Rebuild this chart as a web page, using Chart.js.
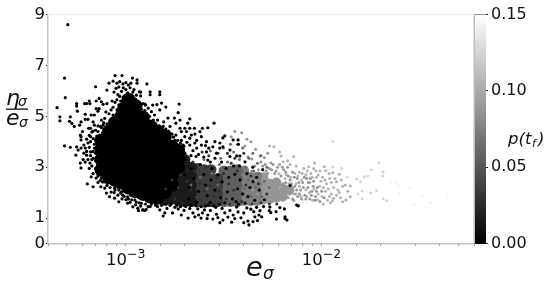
<!DOCTYPE html>
<html><head><meta charset="utf-8">
<style>html,body{margin:0;padding:0;background:#fff}canvas{display:block}</style>
<script src="https://cdn.jsdelivr.net/npm/chart.js@4"></script></head>
<body><canvas id="c" width="550" height="285"></canvas>
<script>
// e_sigma values are in units of 1e-3; second number is eta_sigma / e_sigma
const eUnit = 1e-3;
const yTickValues = [0,1,3,5,7,9];
const cbarTickValues = [0,0.05,0.10,0.15];
const xMajorTicks = [1e-3,1e-2];
const xMajorBase = "10";
const xMajorExps = ["\u22123","\u22122"];

const speckBlack = [[.505,8.6],[.486,6.5],[.49,5.73],[.445,5.34],[.70,6.16],[.46,4.98],[.46,4.82],[.486,3.84],[.52,3.78],
[.88,6.6],[.955,6.6],[1.08,6.5],[1.14,6.43],[1.14,6.3],[1.28,6.27],[.82,6.3],[.86,6.38],[.8,6.03],[.9,6.3],[.93,6.36],[1,6.32],[1.03,6.23],[.965,6.27],[1.06,6.3],[.89,6.1],[.87,5.95],[1,6.05],[1.17,5.96],[1.085,5.95],[1.13,5.83],[1.22,5.5],[1.26,5.44],[.92,6.15],[.97,6.12],[1.05,6.12],[1.1,6.05],[.95,5.98],[1.02,5.92],[.91,5.85],[1.07,5.82],
[.615,5.5],[.65,5.6],[.655,5.5],[.63,5.5],[.56,5.5],[.56,5.4],[.565,5.2],[.62,5.08],[.705,5.6],[.73,5.7],[.75,5.57],[.765,5.47],[.705,5.3],[.73,5.3],[.72,5.2],[.8,5.5],[.79,5.17],[.84,5.25],[.52,4.98],[.515,4.8],[.53,4.72],[.545,4.6],[.58,4.65],[.59,4.78],[.62,4.88],[.64,4.88],[.665,5.05],[.69,5.05],[.68,4.78],[.69,4.65],[.645,4.53],[.66,4.53],[.6,4.4],[.59,4.2],[.65,4.25],[.72,4.4],[.765,4.65],[.83,4.85],[.75,4.85],[.7,4.45],[.74,4.6],[.78,4.92],[.86,5.35],[.82,5.1],[.88,5.55],[.85,5.6],[.67,4.38],[.63,4.1],[.68,4.12],[.71,4.22],
[.56,3.8],[.555,3.47],[.57,3.67],[.59,3.75],[.585,3.16],[.59,2.97],[.605,3.3],[.63,3.47],[.61,3.87],[.59,4.07],[.585,4.26],[.64,3.95],[.655,3.16],[.68,3.35],[.635,2.34],[.68,2.23],[.665,2.62],[.705,2.57],[.72,2.82],[.745,2.23],[.78,2.18],[.795,1.98],[.825,1.84],[.84,2.5],[.875,1.78],[.92,1.64],[.91,1.9],[.965,1.9],[1.02,1.59],[.955,1.75],[1.085,1.44],[1.15,1.39],[1.16,1.29],[1.22,1.32],[1.27,1.34],[1.19,1.47],[.875,2.18],[.91,2.2],[1.02,1.83],[1.11,1.71],[1.06,1.9],[.81,2.38],[.84,2.02],[.75,2.57],[.66,3.6],[.62,3.2],[.65,2.95],[.69,3.75],[.7,2.95],[.67,3.05],[.73,3.55],[.72,3.1],[.75,2.9],[.61,3.55],[.64,3.3],[.66,4.0],[.7,3.25],[.77,2.7],[.8,2.55],[.72,2.4],[.76,2.42],[.87,2.0],[.95,2.03],[1,1.72],[1.05,1.62],[1.12,1.52],
[1.33,5.96],[1.49,5.96],[1.33,5.85],[1.49,5.85],[1.19,5.95],[1.19,5.8],[1.87,5.48],[1.52,5.52],[1.6,5.36],[1.37,5.44],[1.44,5.46],[1.3,5.32],[1.25,5.48],[1.49,5.25],[1.35,5.18],[1.85,5.14],[2.12,4.9],[1.64,4.93],[1.77,4.93],[1.8,4.73],[2.07,4.73],[1.89,4.85],[1.56,4.78],[1.89,4.53],[1.68,4.6],[2.82,4.73],[2.62,4.55],[2.46,4.53],[2.24,4.53],[2.12,4.53],[2,4.53],[2.04,4.4],[1.92,4.4],[2.25,4.3],[2.39,4.4],[2.16,4.26],[2,4.2],[2.12,4.14],[2.43,4.2],[2.58,4.0],[3.2,4.23],[3.13,4.15],[3.74,4.07],[3.53,4.07],[3.74,3.9],[3.02,3.95],[2.85,4],[2.78,3.8],[3.13,3.8],[3.4,3.67],[2.9,3.55],[3.02,3.75],[2.58,3.6],[2.43,3.87],[2.3,3.75],[2.25,3.95],[2.12,3.87],[1.96,3.87],[1.92,4.05],[1.8,4.26],[1.68,4.34],[1.55,4.6],[1.45,4.85],[1.4,5.05],[1.58,4.45],[1.72,4.3],[1.84,4.05],
[1.21,1.78],[1.22,1.32],[1.25,1.3],[1.4,1.6],[1.35,1.55],[1.49,1.32],[1.55,1.08],[1.58,1.2],[1.73,1.2],[1.85,1.36],[1.92,1.12],[2.08,1],[2.2,1.2],[2.33,1.36],[2.46,1.2],[2.62,1.12],[2.78,.96],[3.02,.82],[3.13,.92],[3.32,1.04],[3.53,1.12],[3.74,1.24],[3.47,.84],[1.3,1.45],[1.45,1.45],[1.62,1.38],[1.68,1.5],[1.78,1.42],[1.98,1.3],[2.12,1.38],[2.25,1.05],[2.35,1.12],[2.52,1.32],[2.7,1.3],[2.9,1.15],[2.95,1.02],[3.2,1.2],[3.4,1.3],[3.6,.98],[2.42,1.0],[2.6,.98],[2.55,1.48],[2.88,1.42],[3.1,1.38],
[3.68,1.43],[3.87,1.01],[4,.82],[4.25,.73],[4.2,.88],[4.56,1.05],[4.78,1.12],[4.94,1.05],[4.46,.86],[4.7,.9],[4.5,1.25],[4.84,1.29],[5.44,1.43],[5.4,1.29],[5.87,.96],[5.5,1.21],[5.85,1.25],[6.45,1.36],[6.12,1.41],[6.5,1.05],[6.65,.92],[6.5,.98],[7.45,1.51],[7.6,1.48],[4.0,1.2],[4.15,1.4],[4.35,1.35],[4.65,1.42],[5.05,1.45],
[3.75,3.9],[3.68,3.44],[3.82,3.44],[4.46,2.43],[3.83,2.5],[4.06,3.21],[4.2,1.84],[4.06,1.59],[3.75,1.55],
[2.02,3.3],[2.15,2.95],[2.28,3.42],[2.4,3.1],[2.22,2.55],[2.5,2.72],[2.62,3.28],[2.75,2.95],[2.85,3.35],[2.55,2.3],[2.72,2.5],[2.95,2.7],[3.08,3.2],[3.25,2.95],[3.4,3.42],[3.55,3.05],[3.1,2.42],[3.35,2.6],[3.6,2.72],[3.8,3.05],[2.1,2.2],[2.35,2.05],[2.6,1.88],[2.85,2.1],[3.05,1.8],[3.3,2.02],[3.5,1.75],[3.72,2.15],[3.95,1.95],[4.3,2.2],[4.55,1.7],[4.8,2.1],[5.1,1.72],[4.15,2.75],[4.45,3.0],[4.65,2.6],[5.0,2.9],[2.0,2.7],[2.1,1.75],[2.3,1.62],[2.7,1.62],[3.2,1.6],[3.65,1.65],[6.9,2.28]];

const speckEdge = [[.62,3.75],[.63,3.62],[.65,3.78],[.66,3.45],[.67,3.3],[.68,3.62],[.69,3.9],[.7,3.55],[.71,3.8],[.72,3.35],[.72,4.0],[.73,3.75],[.74,4.2],[.74,3.1],[.76,4.35],[.77,3.0],[.78,4.5],[.79,2.75],[.66,4.2],[.68,4.42],[.7,4.05],[.72,4.62],[.75,4.55],[.77,4.75],[.8,4.7],[.84,4.65],[.86,5.05],[.88,4.95],[.9,5.25],[.92,5.45],[.94,5.6],[.9,5.65],[.93,5.78],[.97,5.75],[1.12,5.68],[1.15,5.55],[1.18,5.42],[1.2,5.28],[1.25,5.22],[1.28,5.05],[1.32,5.0],[1.38,4.85],[1.42,4.7],[1.48,4.62],[1.6,4.5],[1.65,4.42],[1.75,4.18],[1.78,4.05],[1.9,3.95],[1.98,3.82],[2.05,3.98],[2.2,3.65],[2.3,4.05],[2.35,3.5],[2.5,3.4],[2.55,3.85],[2.65,3.75],[2.7,3.2],[2.15,3.45],[2.0,3.55],
[.68,2.75],[.72,2.65],[.74,2.48],[.78,2.42],[.8,2.28],[.83,2.2],[.86,2.32],[.88,2.1],[.92,2.1],[.94,1.98],[.98,1.85],[1.03,1.75],[1.07,1.72],[1.13,1.63],[1.17,1.6],[1.2,1.58],[1.26,1.55],[1.33,1.45],[1.42,1.5],[1.52,1.5],[1.6,1.55],[1.7,1.55],[1.82,1.5],[1.9,1.45],[2.02,1.45],[2.15,1.5],[2.28,1.48],[2.42,1.45],[2.65,1.5],[2.8,1.48],[3,1.55]];

const speckDark = [[1.6,2.15],[1.72,2.5],[1.85,2.2],[1.9,2.7],[2.05,2.45],[2.15,2.1],[2.25,2.85],[2.38,2.35],[2.5,2.05],[2.55,3.0],[2.7,2.25],[2.8,1.85],[2.9,2.6],[3.0,2.05],[3.15,2.75],[3.25,1.75],[3.35,2.35],[3.45,3.15],[3.55,2.1],[3.7,2.85],[2.2,3.2],[2.45,3.6],[2.65,3.45],[2.95,3.55],[3.3,3.55],[3.6,3.35],[4.0,3.55],[1.78,1.75],[1.95,1.6],[2.4,1.72],[2.85,1.55],[3.4,1.55],[3.9,1.65],[4.4,1.55],[4.9,1.6],[5.4,1.55],[5.9,1.55],[4.1,2.3],[4.35,2.65],[4.75,2.35],[5.25,1.95]];

const speckMid = [[2.15,2.3],[2.4,2.6],[2.6,2.15],[2.75,2.75],[2.95,2.3],[3.1,2.95],[3.2,2.2],[3.35,1.85],[3.5,2.5],[3.65,2.0],[3.75,2.45],[3.9,2.8],[4.05,2.15],[4.2,2.5],[4.35,1.85],[4.5,2.85],[4.6,2.2],[4.8,2.75],[4.95,1.85],[5.1,2.45],[5.25,3.0],[5.4,2.2],[3.05,3.35],[3.3,3.2],[3.55,3.6],[3.8,3.3],[3.95,3.75],[4.1,3.0],[4.25,3.35],[4.45,3.55],[4.7,3.15],[4.9,3.45],[3.15,3.75],[3.42,3.9],[3.0,3.1],[2.7,3.65],[2.5,3.3]];

const speckGrey = [[4.05,3.83],[4.2,3.41],[4.4,3.32],[4.84,3.44],[5.1,3.37],[5.5,3.17],[5.3,3.55],[4.6,3.7],[4.15,4.1],[3.45,4.2],[3.9,4.35],[3.6,4.4],[4.35,4.0],[5,3.05],[5.3,2.75],[5.55,2.9],[5.7,2.5],[5.9,2.25],[5.6,2.05],[5.8,1.8],[6.05,1.95],[6.2,2.65],[6.35,2.35],[6.6,2.1],[6.3,1.7],[6.75,1.8],[6.9,2.5],[7,2.0],[7.2,1.7],[5.95,3.0],[6.4,2.9],[6.7,3.0],[5.2,2.2],[5.0,2.6],[4.6,2.45],[4.4,2.85],[5.35,1.75],[5.75,2.75],[7.1,2.8],[7.3,2.25],[7.5,2.55],[7.55,1.85],[7.8,2.1],[8,2.4],[7.9,1.75],[8.2,1.9],[8.4,2.55],[8.5,2.2],[8.7,1.75],[8.9,2.05],[9.1,2.45],[9.3,1.85],[9.5,2.2],[9.8,1.65],[10,2.05],[10.3,1.8],
[4.55,3.05],[4.75,2.9],[4.9,3.2],[5.15,3.1],[5.4,2.95],[5.2,2.85],[5.65,3.1],[5.85,2.85],[6.1,3.1],[6.3,3.0],[6.55,2.8],[6.75,2.65],[7,2.35],[7.25,2.6],[7.45,2.1],[7.65,2.4],[7.7,1.95],[8.05,2.2],[8.15,2.6],[8.3,1.75],[8.55,2.4],[8.75,2.55],[8.85,1.9],[9.05,2.25],[9.25,1.7],[9.4,2.05],[6.15,1.85],[6.45,1.95],[6.55,2.4],[6.85,1.95],[7.1,1.75],[7.35,1.95],[5.5,1.95],[5.75,2.15],[5.25,2.55],[5.45,2.45],[5.95,2.45],[6.25,2.15],[4.95,2.25],[5.05,2.05],[4.7,1.95],[4.45,2.1]];

const speckLight = [[5.42,3.83],[5.7,3.8],[6.1,3.6],[6.2,3.44],[7.2,3.41],[6.35,3.21],[6.7,3.25],[6.05,2.75],[6.9,3.1],[7.4,3.05],[7.7,2.8],[8.6,3.02],[9.2,3.16],[8.1,2.95],[8.3,2.7],[8.8,2.75],[9.6,2.69],[9.1,2.95],[10.3,3.02],[10.5,2.86],[11.4,2.78],[12.3,2.72],[11.9,2.43],[11,2.55],[10.6,2.35],[9.9,2.45],[10.2,2.2],[10.8,2.15],[11.5,2.2],[11.2,1.95],[11.5,1.78],[12.5,1.8],[12.8,1.64],[13.3,1.71],[12.1,2.1],[12.8,2.25],[13.2,2.3],[14,2.26],[14,1.84],[13.6,2.05],[10.7,1.7],[10.2,1.55],[11.1,1.6],[9.4,2.6],[8.7,2.4],[7.9,2.5],[7.4,2.35],[6.8,2.35],[6.5,2.55],[6.15,2.2],[7.15,1.95],[7.7,2.25],[8.3,2.1],[9.15,2.15],[9.6,1.95],
[7.55,2.65],[7.95,2.75],[8.45,2.85],[8.95,2.6],[9.35,2.85],[9.8,2.85],[10.1,2.6],[10.4,2.5],[10.9,2.75],[11.2,2.4],[11.7,2.55],[12.6,2.5],[9.75,2.25],[10.05,1.85],[10.45,2.05],[10.95,1.85],[11.35,1.68],[11.9,1.9],[12.3,2.0],[9.5,1.72],[9.0,1.7],[8.4,1.85],[8.65,2.0],[7.85,1.85],[6.6,2.7],[6.95,2.6],[7.3,2.75]];

const speckPale = [[11.4,4.0],[15.1,2.53],[15.8,2.42],[16.1,2.06],[15.3,1.95],[16.1,1.75],[16.5,2.62],[17.2,2.65],[17.8,1.98],[17.9,2.89],[19.1,2.07],[19.6,3.17],[20.5,2.65],[20.6,2.8],[20.6,1.75],[21.5,1.68],[11.4,3.0],[12.6,2.95],[13.5,2.6]];

const speckFaint = [[24,2.34],[25,2.26],[25,1.95],[28.2,2.19],[29.6,1.51],[32.7,1.84],[44,1.91],[36,1.6],[22.5,2.4]];

const coreBlack = [[.75,2.9],[.75,3.3],[.75,3.7],[.75,4.05],[.82,2.6],[.82,2.95],[.82,3.3],[.82,3.7],[.82,4.1],[.82,4.4],
[.88,2.5],[.88,2.9],[.88,3.3],[.88,3.7],[.88,4.1],[.88,4.5],[.88,4.75],
[.95,2.4],[.95,2.75],[.95,3.1],[.95,3.5],[.95,3.9],[.95,4.3],[.95,4.7],[.95,5.0],[.98,5.3],
[1.03,2.2],[1.03,2.6],[1.03,3],[1.03,3.4],[1.03,3.8],[1.03,4.2],[1.03,4.6],[1.03,5],[1.03,5.35],[1.03,5.65],
[1.12,2.05],[1.12,2.4],[1.12,2.8],[1.12,3.2],[1.12,3.6],[1.12,4],[1.12,4.4],[1.12,4.8],[1.12,5.1],[1.12,5.4],
[1.22,1.95],[1.22,2.3],[1.22,2.7],[1.22,3.1],[1.22,3.5],[1.22,3.9],[1.22,4.3],[1.22,4.7],[1.22,4.95],
[1.33,1.85],[1.33,2.2],[1.33,2.6],[1.33,3],[1.33,3.4],[1.33,3.8],[1.33,4.2],[1.33,4.6],
[1.45,1.8],[1.45,2.1],[1.45,2.5],[1.45,2.9],[1.45,3.3],[1.45,3.7],[1.45,4.1],[1.45,4.4],
[1.58,2.0],[1.58,2.4],[1.58,2.8],[1.58,3.2],[1.58,3.6],[1.58,3.95],[1.58,4.2],
[1.72,2.3],[1.72,2.7],[1.72,3.1],[1.72,3.5],[1.72,3.8],[1.85,3.0],[1.85,3.35],[1.85,3.65]];
const coreNearBlack = [[1.58,1.7],[1.72,1.75],[1.72,2.0],[1.85,1.7],[1.85,2.0],[1.85,2.3],[1.85,2.65],[2,1.65],[2,1.95],[2,2.3],[2,2.65],[2,3.0],[2,3.3],[2.16,1.65],[2.16,2.0],[2.16,2.3],[2.16,2.65],[2.16,3.0]];
const coreDark = [[2.33,1.65],[2.33,1.95],[2.33,2.25],[2.33,2.6],[2.33,2.95],[2.52,1.62],[2.52,1.95],[2.52,2.25],[2.52,2.6],[2.52,2.9],[2.72,1.65],[2.72,1.95],[2.72,2.25],[2.72,2.55],[2.72,2.9],[2.94,1.65],[2.94,1.95],[2.94,2.25],[2.94,2.55]];
const coreMid = [[3.17,1.65],[3.17,1.95],[3.17,2.25],[3.17,2.55],[3.17,2.85],[3.42,1.65],[3.42,1.95],[3.42,2.25],[3.42,2.55],[3.42,2.85],[3.7,1.65],[3.7,1.95],[3.7,2.25],[3.7,2.55],[3.7,2.9]];
const coreGrey = [[4,1.7],[4,1.98],[4,2.28],[4,2.55],[4,2.85],[4.32,1.7],[4.32,2],[4.32,2.3],[4.32,2.6],[4.66,1.7],[4.66,2],[4.66,2.3],[4.66,2.6]];
const coreLight = [[5.03,1.72],[5.03,2],[5.03,2.3],[5.03,2.6],[5.43,1.75],[5.43,2.05],[5.43,2.35],[5.87,1.8],[5.87,2.1],[5.87,2.4],[6.34,1.85],[6.34,2.15],[6.85,2.1]];

const layerValues = {speckBlack:0, speckEdge:0, speckDark:.028, speckMid:.06, speckGrey:.088, speckLight:.105, speckPale:.125, speckFaint:.142,
  coreBlack:0, coreNearBlack:.016, coreDark:.036, coreMid:.056, coreGrey:.074, coreLight:.088};
const grey = p => { const g = Math.round(p/.15*255); return `rgb(${g},${g},${g})`; };
const toPts = a => a.map(([e,r]) => ({x:e*eUnit, y:r}));
const layer = (name,pts,r) => ({label:name,data:toPts(pts),backgroundColor:grey(layerValues[name]),pointRadius:r,pointBorderWidth:0,pointHoverRadius:r,showLine:false});

const mathLabels = {
  id:'mathLabels',
  afterDraw(ch){
    const c = ch.ctx, cb = ch.scales.cb, a = ch.chartArea, xs = ch.scales.x;
    const g = c.createLinearGradient(0,cb.getPixelForValue(0),0,cb.getPixelForValue(.15));
    g.addColorStop(0,'#000'); g.addColorStop(1,'#fff');
    c.save();
    c.fillStyle = g; c.fillRect(a.right,a.top,12,a.bottom-a.top);
    c.fillStyle = '#bdbdbd'; c.fillRect(a.right-0.5,a.top,1.5,a.bottom-a.top);
    c.fillStyle = '#ececec'; c.fillRect(a.left,a.top-0.5,a.right-a.left,1);
    c.fillStyle = '#111'; c.textBaseline='alphabetic'; c.textAlign='left';
    const F = 'DejaVu Sans';
    xMajorTicks.forEach((v,i)=>{
      const px = xs.getPixelForValue(v);
      c.font = `16.5px "${F}"`; c.fillText(xMajorBase,px-20,265);
      c.font = `12.5px "${F}"`; c.fillText(xMajorExps[i],px+1,258);
    });
    c.font = `italic 27px "${F}"`; c.fillText('e',246,276);
    c.font = `italic 17px "${F}"`; c.fillText('\u03C3',263,279);
    c.font = `italic 22px "${F}"`; c.fillText('\u03B7',6,105);
    c.font = `italic 14px "${F}"`; c.fillText('\u03C3',18,106);
    c.fillRect(6,108.5,22,1.3);
    c.font = `italic 22px "${F}"`; c.fillText('e',6,125);
    c.font = `italic 14px "${F}"`; c.fillText('\u03C3',19,127);
    c.font = `italic 16.5px "${F}"`; c.fillText('p(t',508,144);
    c.font = `italic 11px "${F}"`; c.fillText('f',532,147);
    c.font = `italic 16.5px "${F}"`; c.fillText(')',538,144);
    c.restore();
  }
};

new Chart(document.getElementById('c'),{
  type:'scatter',
  data:{datasets:[
    layer('speckBlack',speckBlack,1.6),layer('speckEdge',speckEdge,1.6),layer('speckDark',speckDark,1.5),layer('speckMid',speckMid,1.5),
    layer('speckGrey',speckGrey,1.5),layer('speckLight',speckLight,1.5),layer('speckPale',speckPale,1.4),layer('speckFaint',speckFaint,1.4),
    layer('coreBlack',coreBlack,7),layer('coreNearBlack',coreNearBlack,5.5),layer('coreDark',coreDark,5.5),layer('coreMid',coreMid,5.5),layer('coreGrey',coreGrey,5.5),layer('coreLight',coreLight,5)
  ]},
  plugins:[mathLabels],
  options:{
    responsive:false,animation:false,
    layout:{padding:{top:14.5,right:0,left:0,bottom:0}},
    plugins:{legend:{display:false},tooltip:{enabled:false}},
    scales:{
      x:{type:'logarithmic',min:4e-4,max:.06,
        border:{color:'#c4c4c4',width:1.5},
        grid:{drawOnChartArea:false,tickLength:2,tickColor:'#222',tickWidth:1},
        ticks:{autoSkip:false,maxRotation:0,padding:4,color:'#111',font:{family:'DejaVu Sans',size:16},callback:()=>''},
        afterFit(s){s.height=41.5}},
      y:{type:'linear',min:0,max:9,
        border:{color:'#c4c4c4',width:1.5},
        grid:{drawOnChartArea:false,tickLength:2,tickColor:'#222'},
        afterBuildTicks(s){s.ticks=yTickValues.map(v=>({value:v}))},
        ticks:{padding:1,color:'#111',font:{family:'DejaVu Sans',size:16.5},callback:v=>String(v)},
        afterFit(s){s.width=48}},
      cb:{type:'linear',position:'right',min:0,max:.15,
        border:{display:false},
        grid:{drawOnChartArea:false,tickLength:14,tickColor:'#222'},
        afterBuildTicks(s){s.ticks=cbarTickValues.map(v=>({value:v}))},
        ticks:{padding:3,color:'#111',font:{family:'DejaVu Sans',size:16},callback:v=>v.toFixed(2)},
        afterFit(s){s.width=76}}
    }
  }
});
</script></body></html>
